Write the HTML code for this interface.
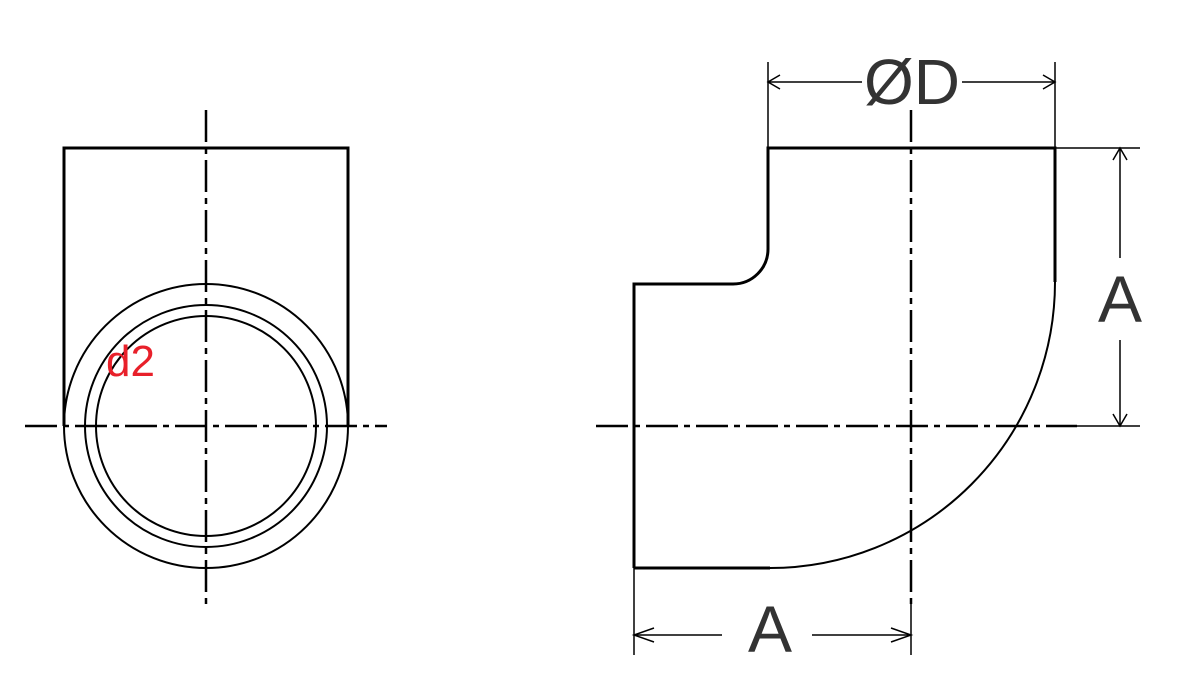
<!DOCTYPE html>
<html><head><style>html,body{margin:0;padding:0;background:#fff}svg{display:block}</style></head>
<body>
<svg width="1177" height="686" viewBox="0 0 1177 686" xmlns="http://www.w3.org/2000/svg">
<g fill="none" stroke="#000">
<path d="M64 426 V148 H348 V426" stroke-width="3"/>
<circle cx="206" cy="426" r="142" stroke-width="2"/>
<circle cx="206" cy="426" r="121" stroke-width="2"/>
<circle cx="206" cy="426" r="110" stroke-width="2"/>
<line x1="206" y1="110" x2="206" y2="605" stroke-width="2.5" stroke-dasharray="32,6,6,6"/>
<line x1="25" y1="426" x2="387" y2="426" stroke-width="2.5" stroke-dasharray="32,6,6,6"/>
<path d="M634 568 V284 H733 A35 35 0 0 0 768 249 V148 H1055 V282" stroke-width="3"/>
<path d="M634 568 H770" stroke-width="3"/>
<path d="M1055 282 A285 286 0 0 1 770 568" stroke-width="2"/>
<line x1="1055" y1="148" x2="1140" y2="148" stroke-width="1.5"/>
<line x1="911" y1="110" x2="911" y2="605" stroke-width="2.5" stroke-dasharray="32,6,6,6"/>
<line x1="596" y1="426" x2="1077" y2="426" stroke-width="2.5" stroke-dasharray="32,6,6,6"/>
<line x1="1077" y1="426" x2="1140" y2="426" stroke-width="1.5"/>
<line x1="768" y1="62" x2="768" y2="148" stroke-width="1.5"/>
<line x1="1055" y1="62" x2="1055" y2="148" stroke-width="1.5"/>
<line x1="768" y1="82" x2="862" y2="82" stroke-width="1.5"/>
<line x1="962" y1="82" x2="1055" y2="82" stroke-width="1.5"/>
<path d="M780 75 L768 82 L780 89 M1043 75 L1055 82 L1043 89" stroke-width="1.5"/>
<line x1="1120" y1="148" x2="1120" y2="258" stroke-width="1.5"/>
<line x1="1120" y1="340" x2="1120" y2="426" stroke-width="1.5"/>
<path d="M1113 160 L1120 148 L1127 160 M1113 414 L1120 426 L1127 414" stroke-width="1.5"/>
<line x1="634" y1="568" x2="634" y2="655" stroke-width="1.5"/>
<line x1="911" y1="600" x2="911" y2="655" stroke-width="1.5"/>
<line x1="634" y1="635" x2="722" y2="635" stroke-width="1.5"/>
<line x1="812" y1="635" x2="911" y2="635" stroke-width="1.5"/>
<path d="M654 628 L634 635 L654 642 M891 628 L911 635 L891 642" stroke-width="1.5"/>
</g>
<g font-family="Liberation Sans, sans-serif" fill="#333">
<text x="912" y="104" font-size="64" text-anchor="middle">ØD</text>
<text x="1120" y="322" font-size="66" text-anchor="middle">A</text>
<text x="770" y="652" font-size="66" text-anchor="middle">A</text>
</g>
<text x="106" y="376" font-family="Liberation Sans, sans-serif" font-size="44" fill="#e8202a">d2</text>
</svg>
</body></html>
